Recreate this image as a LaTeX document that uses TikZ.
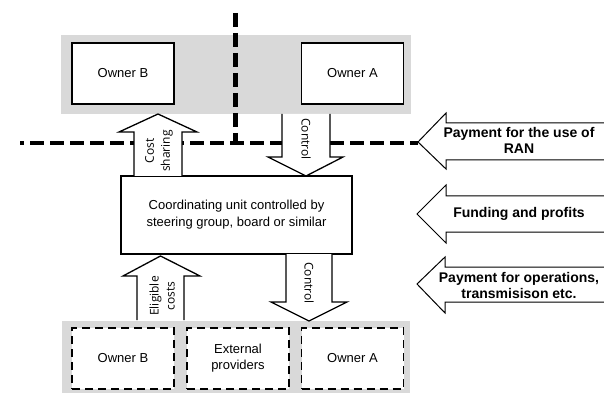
\documentclass[tikz,border=0pt]{standalone}
\usepackage{fontspec}
\setmainfont{Liberation Sans}
\newfontfamily\lblfont{Open Sans}
\usetikzlibrary{calc}
\definecolor{bandgrey}{HTML}{D9D9D9}
\begin{document}
\begin{tikzpicture}[x=1pt,y=-1pt,
  band/.style={fill=bandgrey, draw=none, inner sep=0pt, outer sep=0pt},
  ownerbox/.style={draw, line width=1.3pt, fill=white, inner sep=0pt, outer sep=0pt,
    minimum width=102pt, minimum height=61pt, font=\fontsize{13}{16}\selectfont, align=center},
  dashbox/.style={ownerbox, line width=1.6pt, dash pattern=on 8pt off 5pt},
  divider/.style={line width=4.5pt, dash pattern=on 14pt off 6pt},
  blockarr/.style={draw, line width=1.3pt, fill=white, line join=miter},
  sidearr/.style={draw, line width=1pt, fill=white, line join=miter},
  vlabel/.style={font=\lblfont\fontsize{12}{16}\selectfont, align=center, inner sep=0pt},
  sidelabel/.style={font=\bfseries\fontsize{14}{16}\selectfont, align=center, inner sep=0pt}
]
\useasboundingbox (0,0) rectangle (604,395);

% grey bands
\node[band, minimum width=350pt, minimum height=79pt] (topband) at (236,74.5) {};
\node[band, minimum width=348pt, minimum height=72pt] (botband) at (236,357) {};

% dashed dividers
\coordinate (vtop) at (235.5,13);
\coordinate (vbot) at (235.5,141);
\coordinate (hleft) at (20,143);
\coordinate (hright) at (418,143);
\draw[divider] (vtop) -- (vbot);
\draw[divider, dash phase=10pt] (hleft) -- (hright);

% top owners
\node[ownerbox] (ownBtop) at (123,73.5) {Owner B};
\node[ownerbox] (ownAtop) at (352.5,73.5) {Owner A};

% coordinating unit
\node[draw, line width=1.3pt, fill=white, inner sep=0pt, outer sep=0pt,
  minimum width=231pt, minimum height=78pt, align=center,
  font=\fontsize{13}{17}\selectfont] (cen) at (236.5,215)
  {Coordinating unit controlled by\\steering group, board or similar};

% bottom providers
\node[dashbox] (ownBbot) at (123,358.5) {Owner B};
\node[dashbox] (extbot) at (238,358.5) {External\\providers};
\node[dashbox] (ownAbot) at (352.5,358.5) {Owner A};

% block arrows between the boxes
\draw[blockarr] (134,176) -- (134,132) -- (119,132) -- (158,114) -- (197,132) -- (182,132) -- (182,176);
\node[vlabel, rotate=90] (costlbl) at (159,151) {Cost\\sharing};

\draw[blockarr] (282,114) -- (282,157) -- (268,157) -- (306,176) -- (343,157) -- (330,157) -- (330,114);
\node[vlabel, rotate=-90] (ctl1) at (306,139) {Control};

\draw[blockarr] (137,320) -- (137,276) -- (123,276) -- (160.5,256) -- (200,276) -- (184,276) -- (184,320);
\node[vlabel, rotate=90] (eliglbl) at (162,296) {Eligible\\costs};

\draw[blockarr] (286,254) -- (286,302) -- (271,302) -- (309,321) -- (347,302) -- (332,302) -- (332,254);
\node[vlabel, rotate=-90] (ctl2) at (309,283) {Control};

% side arrows
\path[sidearr] (606,123) -- (446,123) -- (446,113) -- (418,142) -- (446,169) -- (446,160) -- (606,160);
\node[sidelabel] (pay1) at (519,140) {Payment for the use of\\RAN};

\path[sidearr] (606,196) -- (446,196) -- (446,185) -- (417,214) -- (446,243) -- (446,232) -- (606,232);
\node[sidelabel] (fund) at (519,214) {Funding and profits};

\path[sidearr] (606,267) -- (445,267) -- (445,257) -- (417,284) -- (445,313) -- (445,302) -- (606,302);
\node[sidelabel] (pay2) at (519,285) {Payment for operations,\\transmisison etc.};
\end{tikzpicture}
\end{document}
